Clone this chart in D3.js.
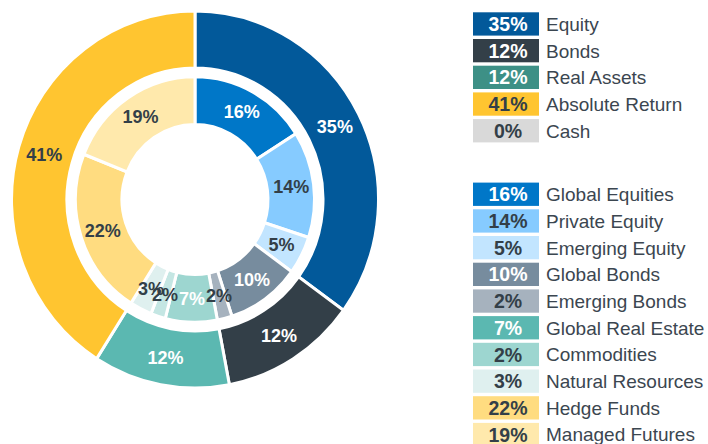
<!DOCTYPE html>
<html>
<head>
<meta charset="utf-8">
<script src="https://cdn.jsdelivr.net/npm/d3@7"></script>
<style>
  html, body { margin: 0; padding: 0; background: #fff; }
  svg { display: block; }
</style>
</head>
<body>
<div id="chart"></div>
<script>
// outer ring: asset classes
const outerLabels = ["Equity", "Bonds", "Real Assets", "Absolute Return", "Cash"]
const outerValues = [35, 12, 12, 41, 0]
const outerSliceColors = ["#02599a", "#333f48", "#5bb8b1", "#ffc530", "#d9d9d9"]
const outerLegendColors = ["#02599a", "#333f48", "#3d9086", "#ffc530", "#d9d9d9"]

// inner ring: sub-classes
const innerLabels = ["Global Equities", "Private Equity", "Emerging Equity", "Global Bonds", "Emerging Bonds",
  "Global Real Estate", "Commodities", "Natural Resources", "Hedge Funds", "Managed Futures"]
const innerValues = [16, 14, 5, 10, 2, 7, 2, 3, 22, 19]
const innerSliceColors = ["#0077c8", "#86cbff", "#c2e5ff", "#778c9e", "#a6b2be",
  "#9dd6d0", "#c4e6e3", "#dff0ef", "#ffdc80", "#ffe9ac"]
const innerLegendColors = ["#0077c8", "#86cbff", "#c2e5ff", "#778c9e", "#a6b2be",
  "#5bb8b1", "#9dd6d0", "#dff0ef", "#ffdc80", "#ffe9ac"]

// which labels are drawn in white
const outerWhite = [true, true, true, false, false]
const innerWhite = [true, false, false, true, false, true, false, false, false, false]

const width = 708, height = 444
const cx = 195, cy = 199.5
const yStretch = 187 / 182
const dark = "#333f48"
const font = "'Liberation Sans', Arial, sans-serif"

const svg = d3.select("#chart").append("svg")
  .attr("width", width)
  .attr("height", height)

const pie = d3.pie().sort(null).value(d => d)

const outerArc = d3.arc().innerRadius(128).outerRadius(183.5)
const innerArc = d3.arc().innerRadius(73).outerRadius(119.5)

const rings = svg.append("g")
  .attr("transform", `translate(${cx},${cy}) scale(1,${yStretch})`)

const outerPie = pie(outerValues)
const innerPie = pie(innerValues)

rings.append("g").selectAll("path")
  .data(outerPie.filter(d => d.value > 0))
  .join("path")
  .attr("d", outerArc)
  .attr("fill", d => outerSliceColors[d.index])
  .attr("stroke", "#fff")
  .attr("stroke-width", 3)

rings.append("g").selectAll("path")
  .data(innerPie)
  .join("path")
  .attr("d", innerArc)
  .attr("fill", d => innerSliceColors[d.index])
  .attr("stroke", "#fff")
  .attr("stroke-width", 3)

// labels (placed outside the stretched group so text keeps its shape)
function labelPos(d, r) {
  const a = (d.startAngle + d.endAngle) / 2
  return [cx + Math.sin(a) * r, cy - Math.cos(a) * r * yStretch]
}

svg.append("g").selectAll("text")
  .data(outerPie.filter(d => d.value > 0))
  .join("text")
  .attr("x", d => labelPos(d, 157)[0])
  .attr("y", d => labelPos(d, 157)[1])
  .attr("dy", "0.35em")
  .attr("text-anchor", "middle")
  .attr("font-family", font)
  .attr("font-weight", "bold")
  .attr("font-size", "18px")
  .attr("fill", d => outerWhite[d.index] ? "#fff" : dark)
  .text(d => d.value + "%")

svg.append("g").selectAll("text")
  .data(innerPie)
  .join("text")
  .attr("x", d => labelPos(d, 97)[0])
  .attr("y", d => labelPos(d, 97)[1])
  .attr("dy", "0.35em")
  .attr("text-anchor", "middle")
  .attr("font-family", font)
  .attr("font-weight", "bold")
  .attr("font-size", "18px")
  .attr("fill", d => innerWhite[d.index] ? "#fff" : dark)
  .text(d => d.value + "%")

// legends
function legend(labels, values, colors, whites, top) {
  const pitch = 26.7
  const g = svg.append("g")
  const rows = g.selectAll("g")
    .data(labels)
    .join("g")
    .attr("transform", (d, i) => `translate(473,${top + i * pitch})`)
  rows.append("rect")
    .attr("width", 66)
    .attr("height", 23.3)
    .attr("fill", (d, i) => colors[i])
  rows.append("text")
    .attr("x", 35)
    .attr("y", 11.7)
    .attr("dy", "0.36em")
    .attr("text-anchor", "middle")
    .attr("font-family", font)
    .attr("font-weight", "bold")
    .attr("font-size", "19.5px")
    .attr("fill", (d, i) => whites[i] ? "#fff" : dark)
    .text((d, i) => values[i] + "%")
  rows.append("text")
    .attr("x", 73)
    .attr("y", 11.7)
    .attr("dy", "0.36em")
    .attr("font-family", font)
    .attr("font-size", "19px")
    .attr("fill", "#3b4650")
    .text(d => d)
}

legend(outerLabels, outerValues, outerLegendColors, [true, true, true, false, false], 12.3)
legend(innerLabels, innerValues, innerLegendColors, innerWhite, 182.6)
</script>
</body>
</html>
